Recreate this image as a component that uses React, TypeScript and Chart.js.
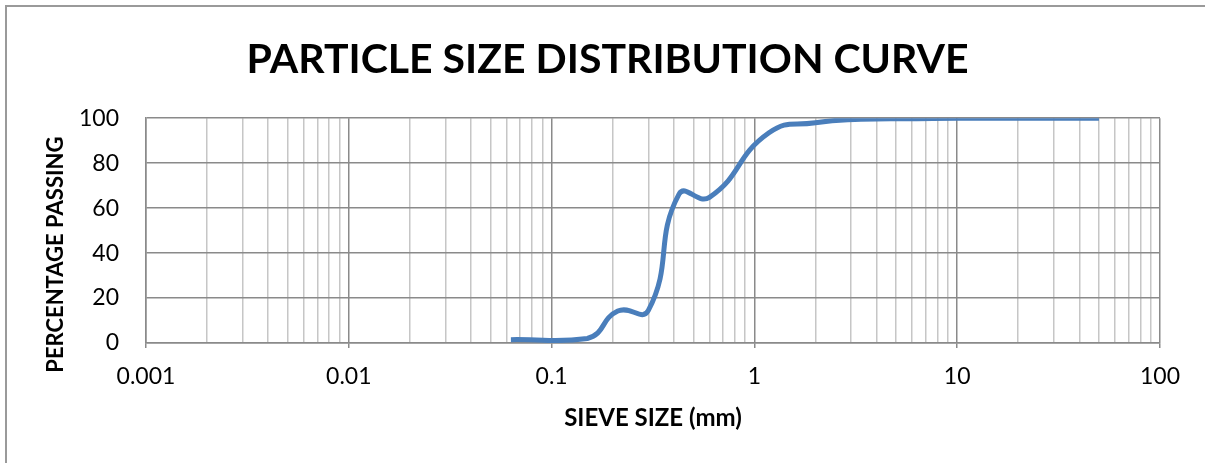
import React, { useEffect, useRef } from 'react';
import { Chart, registerables } from 'chart.js';

Chart.register(...registerables);

// Sieve sizes (mm) and percentage passing
const sieveSizes = [0.063, 0.15, 0.212, 0.3, 0.425, 0.6, 1.18, 2, 3.35, 6.3, 10, 20, 50];
const percentPassing = [1.5, 2, 14.2, 14.5, 66.2, 64.8, 93.5, 98, 99.5, 99.8, 100, 100, 100];

// Axis tick definitions
const xDecades = [0.001, 0.01, 0.1, 1, 10, 100];
const xTickLabels = ['0.001', '0.01', '0.1', '1', '10', '100'];
const minorMultipliers = [2, 3, 4, 5, 6, 7, 8, 9];
const yTickStep = 20;

const chartTitle = 'PARTICLE SIZE DISTRIBUTION CURVE';
const xAxisTitle = 'SIEVE SIZE (mm)';
const yAxisTitle = 'PERCENTAGE PASSING';

const FONT = 'Lato';
const MAJOR_GRID = '#8a8a8a';
const MINOR_GRID = '#c6c6c6';

const sameValue = (a: number, b: number) => Math.abs(a - b) / b < 1e-6;
const isDecade = (v: number) => xDecades.some((d) => sameValue(v, d));
const labelFor = (v: number) => {
  const i = xDecades.findIndex((d) => sameValue(v, d));
  return i >= 0 ? xTickLabels[i] : '';
};

const allXTicks: number[] = [];
xDecades.forEach((d, i) => {
  allXTicks.push(d);
  if (i < xDecades.length - 1) {
    minorMultipliers.forEach((m) => allXTicks.push(Number((d * m).toPrecision(6))));
  }
});

export default function App() {
  const canvasRef = useRef<HTMLCanvasElement | null>(null);

  useEffect(() => {
    if (!canvasRef.current) return;
    const chart = new Chart(canvasRef.current, {
      type: 'line',
      data: {
        datasets: [
          {
            data: sieveSizes.map((x, i) => ({ x, y: percentPassing[i] })),
            borderColor: '#4A7EBB',
            backgroundColor: '#4A7EBB',
            borderWidth: 5,
            pointRadius: 0,
            tension: 0.5,
            fill: false,
          },
        ],
      },
      options: {
        responsive: false,
        animation: false,
        devicePixelRatio: 1,
        layout: { padding: { left: 55, right: 45, top: 0, bottom: 0 } },
        plugins: {
          legend: { display: false },
          tooltip: { enabled: false },
          title: {
            display: true,
            text: chartTitle,
            color: '#000',
            font: { family: FONT, size: 41, weight: 'bold', lineHeight: 1.2 },
            padding: { top: 35, bottom: 34 },
          },
        },
        scales: {
          x: {
            type: 'logarithmic',
            min: xDecades[0],
            max: xDecades[xDecades.length - 1],
            afterBuildTicks: (scale: any) => {
              scale.ticks = allXTicks.map((v) => ({ value: v, major: isDecade(v) }));
            },
            afterFit: (scale: any) => {
              scale.height = 120;
            },
            ticks: {
              autoSkip: false,
              maxRotation: 0,
              minRotation: 0,
              color: '#000',
              font: { family: FONT, size: 23 },
              padding: 15,
              callback: (v: any) => labelFor(Number(v)),
            },
            grid: {
              color: (c: any) => (c.tick && isDecade(c.tick.value) ? MAJOR_GRID : MINOR_GRID),
              tickColor: (c: any) => (c.tick && isDecade(c.tick.value) ? MAJOR_GRID : 'rgba(0,0,0,0)'),
              tickLength: 5,
              lineWidth: 1.5,
            },
            border: { color: MAJOR_GRID, width: 1.5 },
            title: {
              display: true,
              text: xAxisTitle,
              color: '#000',
              font: { family: FONT, size: 24, weight: 'bold' },
              padding: { top: 0, bottom: 30 },
            },
          },
          y: {
            min: 0,
            max: 100,
            afterFit: (scale: any) => {
              scale.width = 91;
            },
            ticks: {
              stepSize: yTickStep,
              color: '#000',
              font: { family: FONT, size: 23 },
              padding: 27,
            },
            grid: { color: MAJOR_GRID, drawTicks: false, lineWidth: 1.5 },
            border: { color: MAJOR_GRID, width: 1.5 },
            title: {
              display: true,
              text: yAxisTitle + '         ',
              color: '#000',
              font: { family: FONT, size: 22, weight: 'bold' },
              padding: { top: -12, bottom: 0 },
            },
          },
        },
      },
    } as any);
    return () => chart.destroy();
  }, []);

  return (
    <div
      style={{
        position: 'fixed',
        left: 0,
        top: 0,
        width: 1205,
        height: 463,
        overflow: 'hidden',
        background: '#fff',
      }}
    >
      <canvas ref={canvasRef} width={1205} height={463} style={{ position: 'absolute', left: 0, top: 0 }} />
      <div
        style={{
          position: 'absolute',
          left: 5,
          top: 5,
          width: 1400,
          height: 800,
          border: '2px solid #9a9a9a',
          pointerEvents: 'none',
        }}
      />
    </div>
  );
}
